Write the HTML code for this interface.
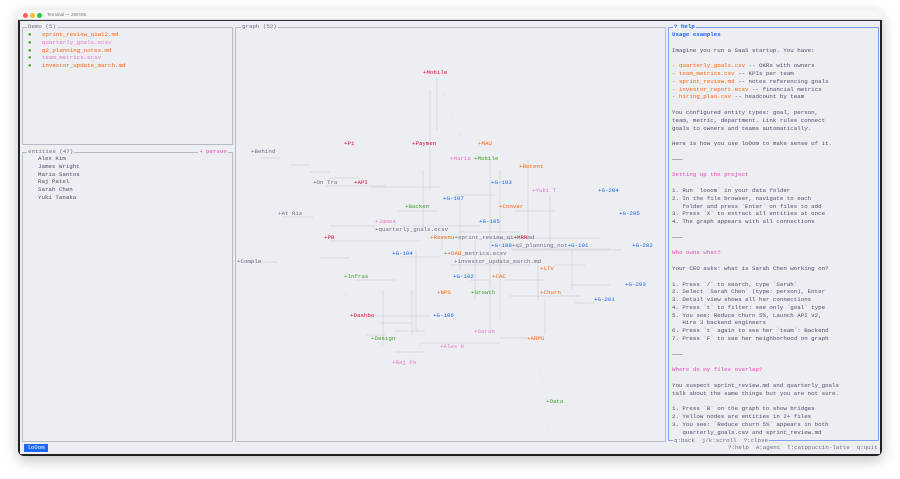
<!DOCTYPE html>
<html><head><meta charset="utf-8"><style>
*{margin:0;padding:0;box-sizing:border-box}
body{width:900px;height:479px;background:#fff;position:relative;overflow:hidden;font-family:"Liberation Mono","DejaVu Sans Mono",monospace;font-size:5.8px;color:#4c4f69}
.win{position:absolute;left:18px;top:10px;width:864px;height:446px;border-radius:6px;background:#eceef2;box-shadow:0 4px 14px rgba(0,0,0,.25);overflow:hidden}
.tb{position:absolute;left:0;top:0;width:864px;height:10px;background:#f6f6f6;border-bottom:1px solid #ddd}
.dot{position:absolute;top:3px;width:5px;height:5px;border-radius:50%}
.term{position:absolute;left:0;top:10px;width:864px;height:436px;border:2px solid #222;border-top:1px solid #333;background:#eceef2}
.p{position:absolute;border:1px solid #b8bac4;border-radius:1px}
.t{position:absolute;white-space:pre;line-height:7.8px;background:#eceef2;padding:0 1px}
.a{position:absolute;white-space:pre;line-height:7.8px}
.r{color:#d20f39}.o{color:#fe640b}.b{color:#1e66f5}.g{color:#40a02b}.k{color:#ea76cb}.y{color:#6c6f85}
pre{font-family:inherit;font-size:5.8px;line-height:7.8px}
</style></head><body>
<div class="win">
<div class="tb"><div class="dot" style="left:5px;background:#ff5f57"></div><div class="dot" style="left:12px;background:#febc2e"></div><div class="dot" style="left:19px;background:#28c840"></div><div class="a" style="left:29px;top:1px;font-family:'Liberation Sans',sans-serif;font-size:4.5px;color:#777">Terminal — 250×85</div></div>
<div class="term"></div>
</div>

<!-- Demo panel -->
<div class="p" style="left:22px;top:27px;width:211px;height:118px"></div>
<div class="t y" style="left:27px;top:23px">Demo (5)</div>
<pre class="a" style="left:28px;top:31px"><span class="g">●</span>   <span class="o">sprint_review_q1w12.md</span>
<span class="g">●</span>   <span class="k">quarterly_goals.ecsv</span>
<span class="g">●</span>   <span class="o">q2_planning_notes.md</span>
<span class="g">●</span>   <span class="k">team_metrics.ecsv</span>
<span class="g">●</span>   <span class="o">investor_update_march.md</span></pre>

<!-- entities -->
<div class="p" style="left:22px;top:152px;width:211px;height:290px"></div>
<div class="t y" style="left:27px;top:148px">entities (47)</div>
<div class="t k" style="left:198px;top:148px;font-weight:bold">◂ person</div>
<pre class="a" style="left:38px;top:155px">Alex Kim
James Wright
Maria Santos
Raj Patel
Sarah Chen
Yuki Tanaka</pre>

<!-- graph -->
<div class="p" style="left:235px;top:27px;width:431px;height:415px"></div>
<div class="t y" style="left:241px;top:23px">graph (52)</div>
<svg style="position:absolute;left:0;top:0" width="900" height="479" stroke="#d3d5dc" stroke-width="0.8" fill="none">
<path d="M437 78V130M430 90V190M423 170V230"/>
<path d="M260 158h20M290 165h20M310 172h20M330 178h30"/>
<path d="M326 186h60M370 187h70M455 195h40M398 211h40M515 211h40"/>
<path d="M283 217h30M330 226h45M400 226h80M460 232h60M480 238h120"/>
<path d="M330 241h90M510 249h100M512 250h110M400 257h40M450 265h80M555 265h30"/>
<path d="M248 262h30M320 258h30M355 280h40M470 280h20M505 280h40M570 285h40M510 296h70M575 303h20"/>
<path d="M375 316h55M380 323h30M395 331h30M365 335h20M420 343h80M500 338h27M395 352h30"/>
<path d="M490 160V330M500 170V320M528 160V240M538 260V300M545 300V335M475 240V300M460 200V270M383 290V345M412 290V335M416 250V330M572 250V290M550 195V250M442 235V250"/>
</svg>
<svg style="position:absolute;left:0;top:0" width="900" height="479" fill="#c9cbd3">
<g>
<circle cx="440" cy="85" r=".5"/><circle cx="444" cy="95" r=".5"/><circle cx="448" cy="105" r=".5"/><circle cx="452" cy="115" r=".5"/><circle cx="456" cy="125" r=".5"/><circle cx="460" cy="135" r=".5"/>
<circle cx="533" cy="350" r=".5"/><circle cx="536" cy="358" r=".5"/><circle cx="538" cy="366" r=".5"/><circle cx="540" cy="374" r=".5"/><circle cx="542" cy="382" r=".5"/><circle cx="545" cy="392" r=".5"/><circle cx="546" cy="410" r=".5"/><circle cx="547" cy="420" r=".5"/><circle cx="548" cy="430" r=".5"/>
<circle cx="345" cy="295" r=".5"/><circle cx="360" cy="300" r=".5"/><circle cx="420" cy="345" r=".5"/><circle cx="410" cy="355" r=".5"/>
</g></svg>
<div style="position:absolute;left:0;top:0">
<div class="a r" style="left:423px;top:69px">+Mobile</div>
<div class="a r" style="left:344px;top:140px">+P1</div>
<div class="a r" style="left:412px;top:140px">+Paymen</div>
<div class="a o" style="left:478px;top:140px">+MAU</div>
<div class="a y" style="left:251px;top:148px">+Behind</div>
<div class="a k" style="left:450px;top:155px">+Maria</div>
<div class="a g" style="left:474px;top:155px">+Mobile</div>
<div class="a o" style="left:519px;top:163px">+Retent</div>
<div class="a y" style="left:313px;top:179px">+On Tra</div>
<div class="a r" style="left:354px;top:179px">+API</div>
<div class="a b" style="left:491px;top:179px">+G-103</div>
<div class="a k" style="left:532px;top:187px">+Yuki T</div>
<div class="a b" style="left:598px;top:187px">+G-204</div>
<div class="a b" style="left:443px;top:195px">+G-107</div>
<div class="a g" style="left:405px;top:203px">+Backen</div>
<div class="a o" style="left:499px;top:203px">+Conver</div>
<div class="a y" style="left:278px;top:210px">+At Ris</div>
<div class="a b" style="left:619px;top:210px">+G-205</div>
<div class="a k" style="left:375px;top:218px">+James</div>
<div class="a b" style="left:479px;top:218px">+G-105</div>
<div class="a y" style="left:375px;top:226px">+quarterly_goals.ecsv</div>
<div class="a r" style="left:324px;top:234px">+PB</div>
<div class="a" style="left:430px;top:234px"><span class="o">+Revenu</span><span class="y">+sprint_review_q1</span><span class="r">+MRR</span><span class="y">md</span></div>
<div class="a" style="left:491px;top:242px"><span class="b">+G-108</span><span class="y">+q2_planning_not</span><span class="b">+G-101</span></div>
<div class="a b" style="left:632px;top:242px">+G-202</div>
<div class="a b" style="left:392px;top:250px">+G-104</div>
<div class="a" style="left:444px;top:250px"><span class="g">+</span><span class="o">+DAU</span><span class="y">_metrics.ecsv</span></div>
<div class="a y" style="left:454px;top:258px">+investor_update_march.md</div>
<div class="a y" style="left:237px;top:258px">+Comple</div>
<div class="a o" style="left:540px;top:265px">+LTV</div>
<div class="a g" style="left:344px;top:273px">+Infras</div>
<div class="a b" style="left:453px;top:273px">+G-102</div>
<div class="a o" style="left:492px;top:273px">+CAC</div>
<div class="a b" style="left:625px;top:281px">+G-203</div>
<div class="a o" style="left:437px;top:289px">+NPS</div>
<div class="a g" style="left:471px;top:289px">+Growth</div>
<div class="a o" style="left:540px;top:289px">+Churn</div>
<div class="a b" style="left:594px;top:296px">+G-201</div>
<div class="a r" style="left:350px;top:312px">+Dashbo</div>
<div class="a b" style="left:433px;top:312px">+G-106</div>
<div class="a k" style="left:474px;top:328px">+Sarah</div>
<div class="a g" style="left:371px;top:335px">+Design</div>
<div class="a o" style="left:527px;top:335px">+ARPU</div>
<div class="a k" style="left:440px;top:343px">+Alex K</div>
<div class="a k" style="left:392px;top:359px">+Raj Pa</div>
<div class="a g" style="left:546px;top:398px">+Data</div>
</div>

<!-- help -->
<div class="p" style="left:668px;top:27px;width:211px;height:414px;border-color:#7fa3f0"></div>
<div class="t b" style="left:673px;top:23px;font-weight:bold">? help</div>
<pre class="a" style="left:672px;top:31px"><b class="b">Usage examples</b>

Imagine you run a SaaS startup. You have:

<span class="o">- quarterly_goals.csv</span> -- OKRs with owners
<span class="o">- team_metrics.csv</span> -- KPIs per team
<span class="o">- sprint_review.md</span> -- notes referencing goals
<span class="o">- investor_report.ecsv</span> -- financial metrics
<span class="o">- hiring_plan.csv</span> -- headcount by team

You configured entity types: goal, person,
team, metric, department. Link rules connect
goals to owners and teams automatically.

Here is how you use loOom to make sense of it.

───

<b class="k">Setting up the project</b>

1. Run `looom` in your data folder
2. In the file browser, navigate to each
   folder and press `Enter` on files to add
3. Press `X` to extract all entities at once
4. The graph appears with all connections

───

<b class="k">Who owns what?</b>

Your CEO asks: what is Sarah Chen working on?

1. Press `/` to search, type `Sarah`
2. Select `Sarah Chen` (type: person), Enter
3. Detail view shows all her connections
4. Press `t` to filter: see only `goal` type
5. You see: Reduce churn 5%, Launch API v2,
   Hire 3 backend engineers
6. Press `t` again to see her `team`: Backend
7. Press `F` to see her neighborhood on graph

───

<b class="k">Where do my files overlap?</b>

You suspect sprint_review.md and quarterly_goals
talk about the same things but you are not sure.

1. Press `B` on the graph to show bridges
2. Yellow nodes are entities in 2+ files
3. You see: `Reduce churn 5%` appears in both
   quarterly_goals.csv and sprint_review.md</pre>
<div class="t y" style="left:673px;top:437px">q:back  j/k:scroll  ?:close</div>

<!-- status -->
<div class="a" style="left:24px;top:444px;width:24px;height:8px;background:#1e66f5;color:#fff;text-align:center;line-height:8px">loOom</div>
<div class="a y" style="left:728px;top:444px">?:help  A:agent  T:catppuccin-latte  q:quit</div>
</body></html>
